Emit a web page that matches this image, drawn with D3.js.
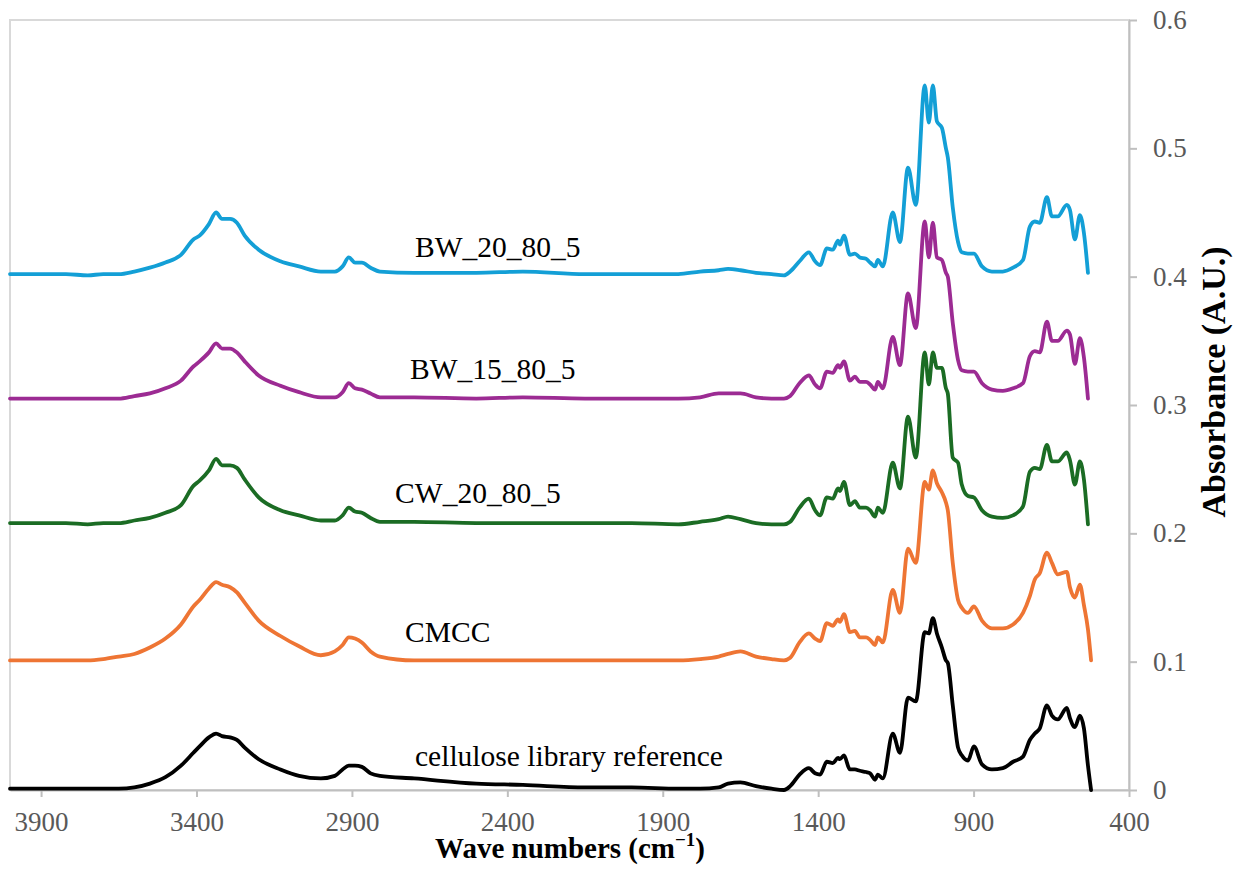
<!doctype html>
<html>

<head>
    <style>
        body { margin: 0; background: #fff; }
        text { font-family: "Liberation Serif", "Times New Roman", serif; }
        .tick text { fill: #595959; font-size: 27px; }
        .tick line { stroke: #bfbfbf; stroke-width: 2; }
        .domain { stroke: #bfbfbf; stroke-width: 2; }
    </style>
    <script src="https://d3js.org/d3.v7.min.js"></script>
</head>

<body>
    <svg width="1237" height="873"></svg>
    <script>
        // wave numbers (cm-1) shared by all spectra
        var waveNumbers = [
            4000, 3940, 3880, 3820, 3750, 3700, 3650, 3600, 3550, 3500,
            3450, 3410, 3390, 3360, 3337, 3318, 3292, 3270, 3245, 3200,
            3130, 3070, 3000, 2955, 2930, 2910, 2890, 2868, 2840, 2810,
            2700, 2500, 2350, 2150, 2000, 1850, 1780, 1720, 1690, 1650,
            1600, 1550, 1510, 1490, 1460, 1430, 1410, 1394, 1372, 1353,
            1336, 1330, 1317, 1298, 1282, 1266, 1246, 1233, 1217, 1208,
            1192, 1160, 1137, 1111, 1086, 1057, 1044, 1031, 1018, 1002,
            989, 983, 967, 950, 938, 918, 899, 873, 841, 806,
            773, 741, 719, 703, 687, 664, 648, 629, 600, 590,
            574, 558, 545, 532, 522]

        var bw20 = [
            .402, .402, .402, .402, .401, .402, .402, .404, .407, .411,
            .417, .429, .432, .441, .450, .445, .445, .442, .432, .421,
            .412, .408, .404, .404, .408, .415, .411, .411, .407, .404,
            .403, .403, .404, .402, .402, .402, .404, .405, .406, .405,
            .403, .402, .401, .404, .412, .419, .412, .409, .422, .421,
            .428, .425, .432, .417, .418, .415, .414, .411, .408, .413,
            .408, .450, .427, .485, .456, .549, .520, .549, .521, .516,
            .500, .493, .454, .427, .419, .418, .418, .408, .404, .404,
            .407, .413, .439, .443, .442, .462, .447, .447, .456, .452,
            .429, .448, .434, .403, null]

        var bw15 = [
            .305, .305, .305, .305, .305, .305, .305, .307, .309, .313,
            .319, .330, .334, .341, .348, .344, .344, .341, .334, .323,
            .315, .310, .306, .306, .310, .317, .313, .312, .309, .306,
            .306, .305, .306, .305, .305, .305, .306, .309, .309, .309,
            .306, .305, .305, .307, .317, .323, .316, .313, .326, .325,
            .331, .329, .334, .319, .322, .318, .318, .316, .312, .318,
            .313, .353, .331, .387, .360, .443, .415, .442, .415, .413,
            .403, .400, .364, .335, .327, .326, .326, .317, .312, .311,
            .313, .317, .338, .342, .341, .365, .350, .350, .358, .355,
            .332, .352, .337, .305, null]

        var cw20 = [
            .208, .208, .208, .208, .207, .208, .208, .210, .212, .216,
            .222, .237, .241, .249, .258, .253, .253, .251, .242, .228,
            .218, .214, .210, .210, .214, .220, .217, .216, .212, .209,
            .209, .208, .208, .208, .208, .207, .209, .211, .213, .211,
            .208, .207, .207, .209, .220, .227, .218, .214, .228, .227,
            .235, .233, .240, .222, .225, .220, .220, .218, .213, .220,
            .216, .255, .235, .291, .259, .341, .316, .341, .329, .329,
            .313, .309, .259, .255, .238, .229, .228, .218, .213, .212,
            .214, .221, .248, .251, .250, .269, .256, .256, .263, .257,
            .238, .256, .242, .207, null]

        var cmcc = [
            .101, .101, .101, .101, .101, .102, .104, .106, .111, .118,
            .129, .143, .148, .157, .162, .160, .158, .154, .146, .132,
            .120, .112, .105, .108, .113, .119, .118, .115, .108, .104,
            .101, .101, .101, .101, .101, .101, .102, .104, .106, .108,
            .104, .102, .101, .103, .115, .122, .118, .116, .130, .128,
            .133, .131, .137, .123, .124, .119, .119, .117, .113, .119,
            .115, .156, .138, .188, .177, .240, .234, .249, .239, .232,
            .224, .218, .177, .148, .142, .138, .143, .132, .126, .126,
            .129, .138, .151, .164, .169, .185, .177, .168, .170, .158,
            .150, .160, .144, .125, .101]

        var cellulose = [
            .001, .001, .001, .001, .001, .001, .001, .002, .005, .010,
            .019, .029, .034, .041, .044, .042, .041, .039, .033, .024,
            .016, .011, .009, .011, .016, .019, .019, .018, .013, .011,
            .009, .005, .004, .002, .002, .001, .001, .002, .005, .006,
            .003, .001, .000, .003, .012, .017, .013, .012, .022, .021,
            .025, .024, .027, .016, .016, .015, .014, .013, .008, .012,
            .009, .044, .029, .072, .069, .123, .122, .134, .122, .111,
            .101, .099, .066, .033, .027, .023, .034, .020, .016, .017,
            .022, .026, .039, .044, .048, .066, .058, .055, .064, .056,
            .049, .058, .048, .019, .000]

        var seriesNames = ["BW_20_80_5", "BW_15_80_5", "CW_20_80_5", "CMCC", "cellulose library reference"]
        var seriesValues = [bw20, bw15, cw20, cmcc, cellulose]
        var seriesColors = ["#139fd6", "#9c2b93", "#1b6c24", "#ee7534", "#000000"]

        var xTicks = [3900, 3400, 2900, 2400, 1900, 1400, 900, 400]
        var yTicks = [0, 0.1, 0.2, 0.3, 0.4, 0.5, 0.6]

        // where each series name sits, in data units (left end, baseline)
        var labelAt = [[2697, 0.415], [2713, 0.320], [2761, 0.224], [2729, 0.115], [2697, 0.019]]

        var svg = d3.select("svg"),
            margin = { top: 20, right: 108, bottom: 83, left: 10 },
            width = 1237 - margin.left - margin.right,
            height = 873 - margin.top - margin.bottom

        var x = d3.scaleLinear().domain([4000, 400]).range([0, width]),
            y = d3.scaleLinear().domain([0, 0.6]).range([height, 0]);

        var g = svg.append("g")
            .attr("transform", "translate(" + margin.left + "," + margin.top + ")");

        // plot area border
        g.append("rect")
            .attr("width", width)
            .attr("height", height)
            .attr("fill", "none")
            .attr("stroke", "#d9d9d9")
            .attr("stroke-width", 2);

        g.append("g")
            .attr("transform", "translate(0," + height + ")")
            .call(d3.axisBottom(x).tickValues(xTicks).tickSize(7).tickSizeOuter(0).tickPadding(15)
                .tickFormat(d3.format("d")));

        g.append("g")
            .attr("transform", "translate(" + width + ",0)")
            .call(d3.axisRight(y).tickValues(yTicks).tickSize(8).tickSizeOuter(0).tickPadding(16)
                .tickFormat(function (d) { return d === 0 ? "0" : d3.format(".1f")(d); }));

        var line = d3.line()
            .defined(function (d) { return d[1] != null; })
            .x(function (d) { return x(d[0]); })
            .y(function (d) { return y(d[1]); })
            .curve(d3.curveMonotoneX);

        seriesValues.forEach(function (vals, i) {
            var pts = waveNumbers.map(function (w, j) { return [w, vals[j]]; })
                .sort(function (a, b) { return b[0] - a[0]; });
            g.append("path")
                .datum(pts)
                .attr("fill", "none")
                .attr("stroke", seriesColors[i])
                .attr("stroke-width", 3.8)
                .attr("stroke-linejoin", "round")
                .attr("stroke-linecap", "round")
                .attr("d", line);

            g.append("text")
                .attr("x", x(labelAt[i][0]))
                .attr("y", y(labelAt[i][1]))
                .style("font-size", "29.5px")
                .style("fill", "#000")
                .text(seriesNames[i]);
        });

        // X Axis Label
        var xt = svg.append("text")
            .attr("x", 570)
            .attr("y", 858)
            .attr("text-anchor", "middle")
            .style("font-size", "29px")
            .style("font-weight", "bold");
        xt.append("tspan").text("Wave numbers (cm");
        xt.append("tspan").attr("dy", -12).style("font-size", "19px").text("\u22121");
        xt.append("tspan").attr("dy", 12).text(")");

        // Y Axis Label
        svg.append("text")
            .attr("transform", "translate(1225,382) rotate(-90)")
            .attr("text-anchor", "middle")
            .style("font-size", "34px")
            .style("font-weight", "bold")
            .text("Absorbance (A.U.)");
    </script>
</body>

</html>
